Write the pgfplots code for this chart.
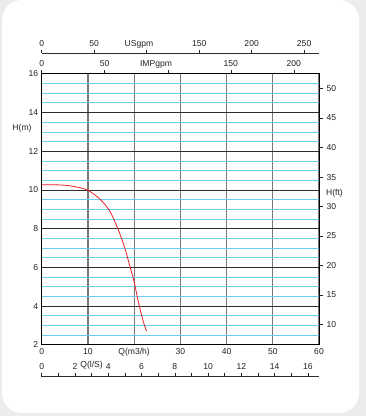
\documentclass[border=0pt]{standalone}
\usepackage{fontspec}
\setmainfont{Liberation Sans}
\usepackage{pgfplots}
\pgfplotsset{compat=1.18}
\definecolor{gridv}{RGB}{120,120,120}
\definecolor{gridh}{RGB}{45,45,45}
\definecolor{cyanl}{RGB}{105,205,238}
\definecolor{bggray}{RGB}{236,236,236}
\definecolor{txt}{RGB}{35,35,35}
\definecolor{curve}{RGB}{235,30,40}
\newcommand{\fs}{\fontsize{8.6}{10}\selectfont}
\begin{document}
\begin{tikzpicture}
\fill[bggray] (0bp,0bp) rectangle (366bp,416bp);
\fill[white,rounded corners=20bp] (2bp,3bp) rectangle (359bp,416bp);
% main axis
\begin{axis}[at={(41.7bp,71.2bp)}, anchor=south west, scale only axis,
  width=277.3bp, height=270.9bp,
  xmin=0, xmax=60, ymin=2, ymax=16,
  axis line style={draw=black, line width=0.8pt},
  xtick={0,10,20,30,40,50,60}, xticklabels={0,10,Q(m3/h),30,40,50,60},
  ytick={2,4,6,8,10,12,14,16},
  minor y tick num=3,
  tick style={draw=none},
  ymajorgrids, yminorgrids, xmajorgrids,
  major y grid style={gridh, line width=0.8pt},
  minor y grid style={cyanl, line width=0.9pt},
  major x grid style={gridv, line width=1.2pt},
  /pgf/number format/assume math mode=true,
  ticklabel style={font=\fs, text=txt},
]
\addplot[curve, line width=0.8pt, smooth] coordinates {
 (0,10.27)(2,10.27)(4,10.26)(6,10.22)(8,10.13)(10,9.99)(12.6,9.53)(14.8,8.88)
 (16.6,7.93)(18,6.99)(19.1,6.04)(20,5.26)(20.9,4.23)(22,3.19)(22.7,2.71)};
\end{axis}
% right axis in ft
\begin{axis}[at={(41.7bp,71.2bp)}, anchor=south west, scale only axis,
  width=277.3bp, height=270.9bp,
  xmin=0, xmax=60, ymin=6.5617, ymax=52.493,
  axis x line=none, axis y line*=right, axis line style={draw=none},
  ytick={10,15,20,25,30,35,40,45,50}, tick align=outside, major tick length=4bp,
  ytick style={txt, line width=0.5pt},
  /pgf/number format/assume math mode=true,
  ticklabel style={font=\fs, text=txt},
]
\end{axis}
% IMPgpm axis
\begin{axis}[at={(41.7bp,71.2bp)}, anchor=south west, scale only axis,
  width=277.3bp, height=270.9bp,
  xmin=0, xmax=219.97, ymin=0, ymax=1,
  axis y line=none, axis x line*=top, axis line style={draw=none},
  xtick={0,50,100,150,200}, xticklabels={0,50,,150,200},
  tick align=outside, major tick length=4bp,
  xtick style={txt, line width=0.5pt},
  /pgf/number format/assume math mode=true,
  ticklabel style={font=\fs, text=txt},
]
\end{axis}
% USgpm axis
\begin{axis}[at={(41.7bp,362.7bp)}, anchor=north west, scale only axis,
  width=277.3bp, height=1bp,
  xmin=0, xmax=264.17, ymin=0, ymax=1,
  axis y line=none, axis x line*=top, axis line style={draw=gridh, line width=0.8pt},
  xtick={0,50,100,150,200,250}, xticklabels={0,50,,150,200,250},
  tick align=outside, major tick length=3.5bp,
  xtick style={txt, line width=0.5pt},
  /pgf/number format/assume math mode=true,
  ticklabel style={font=\fs, text=txt},
]
\end{axis}
% Q l/s axis
\begin{axis}[at={(41.7bp,39.3bp)}, anchor=north west, scale only axis,
  width=277.3bp, height=1bp,
  xmin=0, xmax=16.667, ymin=0, ymax=1,
  axis y line=none, axis x line*=top, axis line style={draw=gridh, line width=0.8pt},
  xtick={0,1,2,3,4,5,6,7,8,9,10,11,12,13,14,15,16},
  xticklabels={0,,2,Q(l/S),4,,6,,8,,10,,12,,14,,16},
  tick align=outside, major tick length=4bp,
  xtick style={txt, line width=0.5pt},
  /pgf/number format/assume math mode=true,
  ticklabel style={font=\fs, text=txt},
]
\end{axis}
\node[font=\fs, text=txt] at (139bp,371.5bp) {USgpm};
\node[font=\fs, text=txt] at (156bp,351.7bp) {IMPgpm};
\node[font=\fs, text=txt] at (22bp,288bp) {H(m)};
\node[font=\fs, text=txt] at (334.5bp,223bp) {H(ft)};
\pgfresetboundingbox
\path (0bp,0bp) rectangle (366bp,416bp);
\end{tikzpicture}
\end{document}
